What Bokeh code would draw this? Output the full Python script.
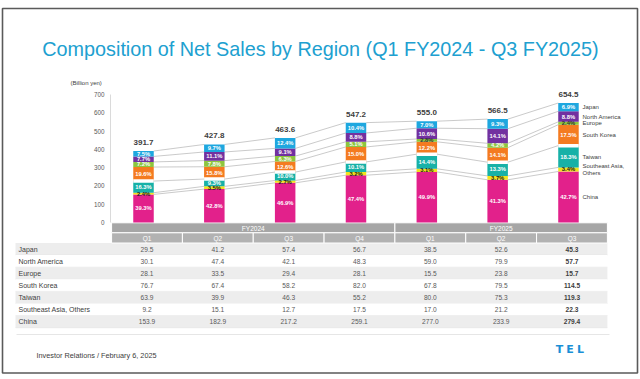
import numpy as np
from bokeh.plotting import figure
from bokeh.models import Range1d, LinearAxis, FixedTicker
from bokeh.core.properties import value
from bokeh.embed import file_html
from bokeh.resources import INLINE

# ---------------- data ----------------
title_text = "Composition of Net Sales by Region (Q1 FY2024 - Q3 FY2025)"
unit_text = "(Billion yen)"
footer_text = "Investor Relations / February 6, 2025"
logo_text = "TEL"

fiscal_years = ["FY2024", "FY2025"]
fy_quarter_counts = [4, 3]
quarters = ["Q1", "Q2", "Q3", "Q4", "Q1", "Q2", "Q3"]
regions = ["Japan", "North America", "Europe", "South Korea", "Taiwan",
           "Southeast Asia, Others", "China"]
legend_labels = ["Japan", "North America", "Europe", "South Korea", "Taiwan",
                 "Southeast Asia,\nOthers", "China"]

japan = [29.5, 41.2, 57.4, 56.7, 38.5, 52.6, 45.3]
north_america = [30.1, 47.4, 42.1, 48.3, 59.0, 79.9, 57.7]
europe = [28.1, 33.5, 29.4, 28.1, 15.5, 23.8, 15.7]
south_korea = [76.7, 67.4, 58.2, 82.0, 67.8, 79.5, 114.5]
taiwan = [63.9, 39.9, 46.3, 55.2, 80.0, 75.3, 119.3]
sea_others = [9.2, 15.1, 12.7, 17.5, 17.0, 21.2, 22.3]
china = [153.9, 182.9, 217.2, 259.1, 277.0, 233.9, 279.4]
totals = [391.7, 427.8, 463.6, 547.2, 555.0, 566.5, 654.5]

japan_pct = [7.5, 9.7, 12.4, 10.4, 7.0, 9.3, 6.9]
north_america_pct = [7.7, 11.1, 9.1, 8.8, 10.6, 14.1, 8.8]
europe_pct = [7.2, 7.8, 6.3, 5.1, 2.8, 4.2, 2.4]
south_korea_pct = [19.6, 15.8, 12.6, 15.0, 12.2, 14.1, 17.5]
taiwan_pct = [16.3, 9.3, 10.0, 10.1, 14.4, 13.3, 18.3]
sea_others_pct = [2.4, 3.5, 2.7, 3.2, 3.1, 3.7, 3.4]
china_pct = [39.3, 42.8, 46.9, 47.4, 49.9, 41.3, 42.7]

y_ticks = [0, 100, 200, 300, 400, 500, 600, 700]

series = [japan, north_america, europe, south_korea, taiwan, sea_others, china]
series_pct = [japan_pct, north_america_pct, europe_pct, south_korea_pct,
              taiwan_pct, sea_others_pct, china_pct]
colors = ["#1ea7df", "#7231a0", "#8dc63f", "#f47b20", "#17b1a7", "#f2e21c", "#e2218b"]

# ---------------- layout helpers (pixel geometry of the slide) ----------------
W, H = 640, 379
SLOT_PX = 70.83      # px between bar centres
X0_PX = 143.0        # px of first bar centre
Y0_PX = 222.0        # px (from top) of value 0
UNIT_PX = 0.1826     # px per billion yen
BAR_W = 20.5 / SLOT_PX
TABLE_DX = 3.5 / SLOT_PX


def dx(ix):
    return (ix - X0_PX) / SLOT_PX


def dy(iy):
    return (Y0_PX - iy) / UNIT_PX


FONT = value("Liberation Sans")

p = figure(width=W, height=H,
           x_range=Range1d(dx(0), dx(W)), y_range=Range1d(dy(H), dy(0)),
           output_backend="svg", toolbar_location=None, tools="",
           x_axis_location=None, y_axis_location=None, min_border=0)
p.grid.visible = False
p.background_fill_color = "white"
p.border_fill_color = "white"
p.outline_line_color = None


def txt(x, y, t, size, color, align="center", bold=False, baseline="middle"):
    p.text(x=list(x), y=list(y), text=list(t), text_font=FONT, text_font_size=size,
           text_color=color, text_align=align, text_baseline=baseline,
           text_font_style="bold" if bold else "normal", text_line_height=1.15)


# slide frame
p.quad(left=[dx(2)], right=[dx(637)], top=[dy(8)], bottom=[dy(372.5)],
       fill_color=None, line_color="#5a5a5a", line_width=1.6)

n = len(quarters)
xs = np.arange(n, dtype=float)

# ---------------- table ----------------
col_centres = xs + TABLE_DX
table_left = dx(15)
table_right = xs[-1] + 0.5 + TABLE_DX
ROW_TOP = 242.5
ROW_H = 12.1

for k, r in enumerate(regions):
    top = dy(ROW_TOP + k * ROW_H)
    bot = dy(ROW_TOP + (k + 1) * ROW_H)
    p.quad(left=[table_left], right=[table_right], top=[top], bottom=[bot],
           fill_color="#ededed" if k % 2 == 0 else "white", line_color=None)
    p.segment(x0=[table_left], x1=[table_right], y0=[bot], y1=[bot],
              line_color="#e2e2e2", line_width=0.6)

# fiscal-year header row
starts = np.cumsum([0] + fy_quarter_counts[:-1])
ends = np.cumsum(fy_quarter_counts)
fy_left = starts - 0.5 + TABLE_DX
fy_right = ends - 0.5 + TABLE_DX
p.quad(left=fy_left, right=fy_right, top=[dy(222.3)] * 2, bottom=[dy(232.3)] * 2,
       fill_color="#a6a6a6", line_color="white", line_width=1)
p.quad(left=xs - 0.5 + TABLE_DX, right=xs + 0.5 + TABLE_DX,
       top=[dy(232.3)] * n, bottom=[dy(242.5)] * n,
       fill_color="#b2b2b2", line_color="white", line_width=1)
txt((fy_left + fy_right) / 2, [dy(227.5)] * 2, fiscal_years, "6.5px", "white")
txt(col_centres, [dy(237.5)] * n, quarters, "6.5px", "white")

for k, (r, vals) in enumerate(zip(regions, series)):
    yc = dy(ROW_TOP + (k + 0.5) * ROW_H)
    txt([dx(18)], [yc], [r], "7px", "#404040", align="left")
    txt(col_centres[:-1], [yc] * (n - 1), [f"{v:.1f}" for v in vals[:-1]], "6.6px", "#595959")
    txt(col_centres[-1:], [yc], [f"{vals[-1]:.1f}"], "6.6px", "#404040", bold=True)

# ---------------- stacked bars ----------------
stack_idx = list(range(len(regions)))[::-1]   # China at the bottom
bottom = np.zeros(n)
bounds = {}
for j in stack_idx:
    v = np.array(series[j])
    bounds[j] = (bottom.copy(), bottom + v)
    bottom = bottom + v

# series lines between neighbouring bars
for j in stack_idx:
    t = bounds[j][1]
    p.segment(x0=xs[:-1] + BAR_W / 2, x1=xs[1:] - BAR_W / 2, y0=t[:-1], y1=t[1:],
              line_color="#bdbdbd", line_width=0.8)

for j in stack_idx:
    b, t = bounds[j]
    p.vbar(x=xs, width=BAR_W, bottom=b, top=t, fill_color=colors[j], line_color=None)

# white separator on top of the Taiwan segment (as in the slide)
tw = regions.index("Taiwan")
p.segment(x0=xs - BAR_W / 2, x1=xs + BAR_W / 2, y0=bounds[tw][1], y1=bounds[tw][1],
          line_color="white", line_width=3.5)

# percentage labels
for j in stack_idx:
    b, t = bounds[j]
    mid = (b + t) / 2
    if regions[j] == "Southeast Asia, Others":
        col = ["#1a1a1a"] * n
    elif regions[j] == "Europe":
        col = ["#333333" if pc < 3 else "white" for pc in series_pct[j]]
    else:
        col = ["white"] * n
    txt(xs, mid, [f"{pc:.1f}%" for pc in series_pct[j]], "5.8px", col, bold=True)

# totals above bars
tot_off = 8.5 / UNIT_PX
txt(xs, np.array(totals) + tot_off, [f"{t:.1f}" for t in totals], "8px", "#404040", bold=True)

# region names next to the last bar
last_mid = [(bounds[j][0][-1] + bounds[j][1][-1]) / 2 for j in range(len(regions))]
txt([dx(582)] * len(regions), last_mid, legend_labels, "6px", "#404040", align="left")

# y axis
yax = LinearAxis(fixed_location=dx(110), ticker=FixedTicker(ticks=y_ticks), bounds=(0, 700))
yax.axis_line_color = "#d0d0d0"
yax.axis_line_width = 0.8
yax.major_tick_line_color = None
yax.minor_tick_line_color = None
yax.major_tick_in = 0
yax.major_tick_out = 0
yax.major_label_standoff = 6
yax.major_label_text_font = "Liberation Sans"
yax.major_label_text_font_size = "6.3px"
yax.major_label_text_color = "#595959"
p.add_layout(yax, "left")

txt([dx(70)], [dy(82)], [unit_text], "6px", "#404040", align="left")

# ---------------- title & footer ----------------
txt([dx(320)], [dy(48)], [title_text], "19.8px", "#20a0d0")
p.segment(x0=[dx(16)], x1=[dx(609)], y0=[dy(334)], y1=[dy(334)],
          line_color="#e6e6e6", line_width=1)
txt([dx(36)], [dy(355)], [footer_text], "7.3px", "#404040", align="left")
logo_x = [559.0, 569.5, 580.0]
p.text(x=[dx(v) for v in logo_x], y=[dy(348.5)] * 3, text=list(logo_text),
       text_font=value("DejaVu Sans"), text_font_size="11px", text_font_style="bold",
       text_color="#1a8fd6", text_align="center", text_baseline="middle")

open("out.html", "w").write(file_html(p, INLINE))
